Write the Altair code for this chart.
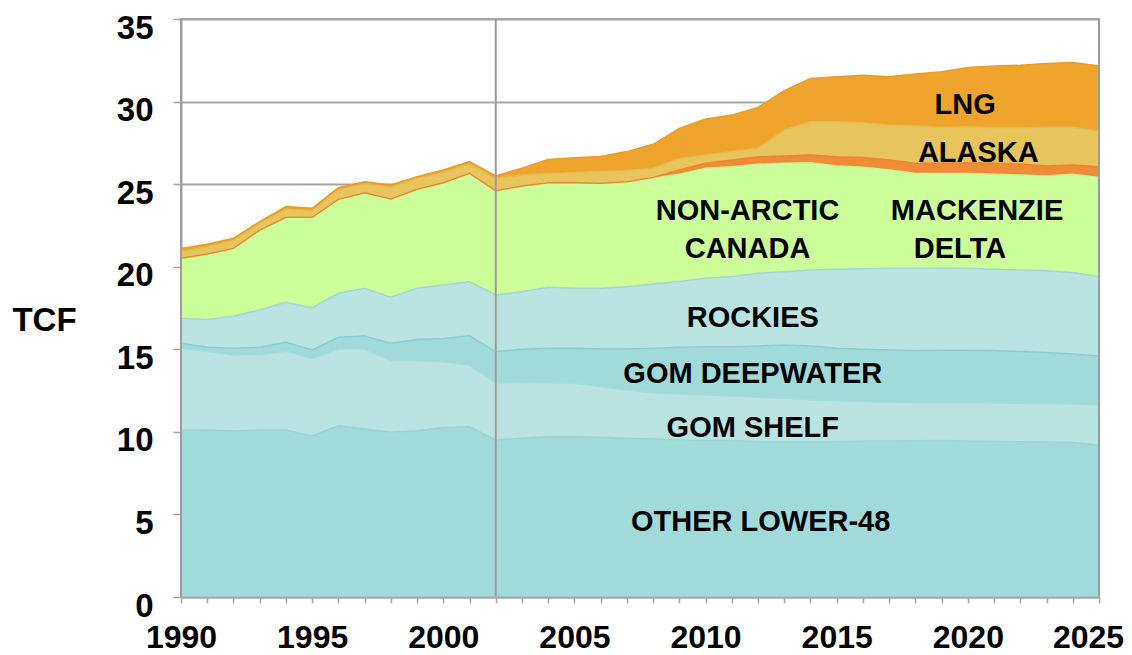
import altair as alt
import pandas as pd

years = list(range(1990, 2026))

series_names = ["OTHER LOWER-48", "GOM SHELF", "GOM DEEPWATER", "ROCKIES",
                "NON-ARCTIC CANADA", "MACKENZIE DELTA", "ALASKA", "LNG"]

other_l48 = [10.11, 10.11, 10.05, 10.11, 10.11, 9.75, 10.37, 10.17, 9.97, 10.07, 10.27, 10.31,
             9.51, 9.61, 9.71, 9.71, 9.67, 9.61, 9.57, 9.51, 9.47, 9.47, 9.41, 9.41,
             9.41, 9.42, 9.44, 9.45, 9.46, 9.47, 9.45, 9.43, 9.40, 9.38, 9.35, 9.20]
gom_shelf = [4.95, 4.75, 4.60, 4.54, 4.79, 4.70, 4.65, 4.85, 4.34, 4.24, 3.98, 3.74,
             3.44, 3.39, 3.27, 3.23, 3.07, 2.92, 2.80, 2.78, 2.76, 2.70, 2.68, 2.62,
             2.54, 2.46, 2.40, 2.35, 2.32, 2.31, 2.33, 2.32, 2.32, 2.34, 2.33, 2.43]
gom_deep = [0.30, 0.26, 0.41, 0.47, 0.52, 0.51, 0.71, 0.78, 1.05, 1.29, 1.41, 1.77,
            1.91, 2.00, 2.08, 2.12, 2.28, 2.49, 2.69, 2.83, 2.93, 2.99, 3.11, 3.23,
            3.25, 3.18, 3.16, 3.16, 3.14, 3.16, 3.16, 3.17, 3.14, 3.08, 3.03, 2.96]
rockies = [1.52, 1.68, 1.94, 2.26, 2.42, 2.56, 2.66, 2.89, 2.79, 3.09, 3.23, 3.27,
           3.43, 3.49, 3.69, 3.63, 3.67, 3.77, 3.89, 3.98, 4.14, 4.24, 4.40, 4.44,
           4.60, 4.79, 4.88, 4.94, 4.98, 4.96, 4.96, 4.93, 4.94, 4.95, 4.94, 4.81]
non_arctic = [3.63, 3.97, 4.11, 4.84, 5.15, 5.47, 5.69, 5.79, 5.95, 6.00, 6.20, 6.56,
              6.31, 6.40, 6.34, 6.40, 6.36, 6.36, 6.40, 6.50, 6.66, 6.66, 6.60, 6.56,
              6.50, 6.25, 6.14, 5.96, 5.75, 5.75, 5.75, 5.75, 5.75, 5.74, 5.95, 6.00]
mackenzie = [0, 0, 0, 0, 0, 0, 0, 0, 0, 0, 0, 0,
             0, 0, 0, 0, 0, 0, 0.06, 0.26, 0.30, 0.40, 0.46, 0.44,
             0.46, 0.56, 0.60, 0.60, 0.61, 0.61, 0.65, 0.66, 0.67, 0.61, 0.56, 0.66]
alaska = [0.40, 0.44, 0.47, 0.41, 0.49, 0.40, 0.56, 0.53, 0.71, 0.66, 0.60, 0.57,
          0.75, 0.66, 0.56, 0.61, 0.71, 0.67, 0.55, 0.70, 0.50, 0.51, 0.51, 1.58,
          2.02, 2.12, 2.10, 2.12, 2.26, 2.18, 2.18, 2.16, 2.20, 2.34, 2.28, 2.14]
lng = [0.20, 0.15, 0.14, 0.10, 0.16, 0.15, 0.15, 0.14, 0.14, 0.10, 0.17, 0.14,
       0.15, 0.41, 0.85, 0.90, 0.91, 1.15, 1.45, 1.82, 2.18, 2.21, 2.48, 2.38,
       2.62, 2.72, 2.88, 2.92, 3.15, 3.36, 3.59, 3.73, 3.78, 3.86, 3.92, 3.95]

series_values = [other_l48, gom_shelf, gom_deep, rockies, non_arctic, mackenzie, alaska, lng]

fill_colors = ["#A0DAD9", "#B9E4E2", "#A0DAD9", "#B9E4E2",
               "#CCFF99", "#F08C38", "#E8C55C", "#EFA52D"]
stroke_colors = ["#98D6D5", "#A6DCDA", "#88D0CE", "#9ED8D8",
                 "#C4F592", "#EE8530", "#E2BC50", "#EC9C22"]

# annotation labels (text, year, TCF)
label_texts = ["LNG", "ALASKA", "NON-ARCTIC", "CANADA", "MACKENZIE", "DELTA",
               "ROCKIES", "GOM DEEPWATER", "GOM SHELF", "OTHER LOWER-48"]
label_years = [2019.9, 2020.4, 2011.6, 2011.6, 2020.35, 2019.7, 2011.8, 2011.8, 2011.8, 2012.1]
label_vals = [29.8, 26.9, 23.4, 21.1, 23.4, 21.05, 16.9, 13.5, 10.25, 4.55]

ref_years = [1990, 2002, 2025]

y_ticks = [0, 5, 10, 15, 20, 25, 30, 35]

rows = []
for i, (name, vals) in enumerate(zip(series_names, series_values)):
    for yr, v in zip(years, vals):
        rows.append({"year": yr, "series": name, "value": v, "idx": i})
df = pd.DataFrame(rows)

labels_df = pd.DataFrame({"text": label_texts, "year": label_years, "value": label_vals})
rules_df = pd.DataFrame({"year": ref_years})

FONT = "Liberation Sans"
GRAY = "#A6A6A6"

x_scale = alt.Scale(domain=[1990, 2025], nice=False, zero=False)
y_scale = alt.Scale(domain=[0, 35], nice=False)

x_axis = alt.Axis(values=years, labelExpr="datum.value % 5 == 0 ? datum.value : ''",
                  labelFont=FONT, labelFontSize=32, labelFontWeight="bold", labelColor="black",
                  labelPadding=19, labelOverlap=False, labelBound=False, tickSize=6,
                  labelOffset={"condition": {"test": "datum.value == 2025", "value": -11}, "value": 0},
                  tickColor=GRAY, tickWidth=1.5,
                  domainColor=GRAY, domainWidth=2, grid=False, title=None, zindex=1,
                  labelFlush=False)
y_axis = alt.Axis(values=y_ticks, labelFont=FONT, labelFontSize=33, labelFontWeight="bold",
                  labelColor="black", labelPadding=20, labelOffset=9, tickSize=8,
                  tickColor=GRAY, tickWidth=1.5, domainColor=GRAY, domainWidth=2,
                  labelOverlap=False,
                  grid=True, gridColor=GRAY, gridWidth=2,
                  title="TCF", titleFont=FONT, titleFontSize=33, titleFontWeight="bold",
                  titleColor="black", titleAngle=0, titleAlign="center", titleBaseline="middle",
                  titleX=-137, titleY=301)

X = alt.X("year:Q", scale=x_scale, axis=x_axis)

base = alt.Chart(df).transform_stack(
    stack="value", groupby=["year"], as_=["y0", "y1"],
    sort=[alt.SortField("idx", order="ascending")]
)

areas = base.mark_area(opacity=1).encode(
    x=X,
    y=alt.Y("y1:Q", scale=y_scale, axis=y_axis),
    y2="y0:Q",
    color=alt.Color("series:N", scale=alt.Scale(domain=series_names, range=fill_colors), legend=None),
)

lines = base.mark_line(strokeWidth=1.5).encode(
    x=X,
    y=alt.Y("y1:Q", scale=y_scale, axis=y_axis),
    stroke=alt.Stroke("series:N", scale=alt.Scale(domain=series_names, range=stroke_colors), legend=None),
)

rules = alt.Chart(rules_df).mark_rule(color="#9C9C9C", strokeWidth=2).encode(
    x=X,
    y=alt.value(0),
    y2=alt.value(578),
)

texts = alt.Chart(labels_df).mark_text(font=FONT, fontSize=29, fontWeight="bold",
                                       color="black", align="center", baseline="middle").encode(
    x=X,
    y=alt.Y("value:Q", scale=y_scale, axis=y_axis),
    text="text:N",
)

chart = alt.layer(areas, lines, rules, texts).properties(
    width=918, height=578,
    autosize=alt.AutoSizeParams(type="none"),
    padding={"left": 173, "top": 11, "right": 25, "bottom": 62},
).configure_view(stroke=GRAY, strokeWidth=2).configure_axisX(
    labelOverlap=False
).resolve_scale(color="independent")

chart.save("out.html", embed_options={"renderer": "svg", "actions": False})
